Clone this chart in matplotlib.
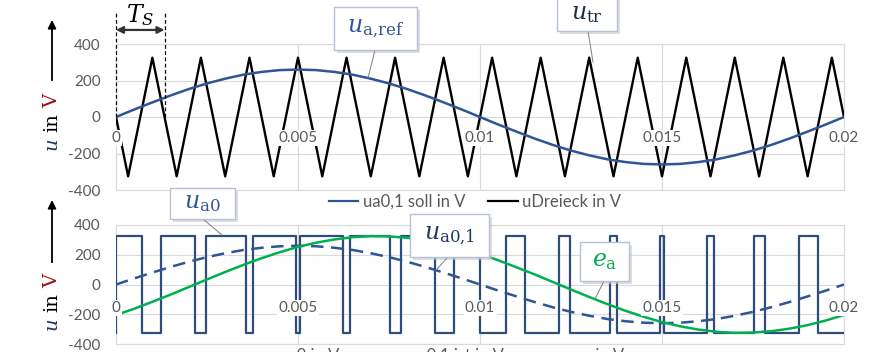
import numpy as np
import matplotlib.pyplot as plt
from matplotlib.patches import Rectangle
from matplotlib.lines import Line2D

plt.rcParams['font.family'] = ['Lato', 'DejaVu Sans']
plt.rcParams['mathtext.fontset'] = 'dejavuserif'

# --- data (time in ms, voltages in V) ---
t_ms = np.arange(0, 20.01, 0.5)
ua_ref = [0, 41, 80, 118, 153, 184, 210, 232, 247, 257, 260, 257, 247, 232, 210, 184, 153, 118, 80, 41,
          0, -41, -80, -118, -153, -184, -210, -232, -247, -257, -260, -257, -247, -232, -210, -184, -153,
          -118, -80, -41, 0]
e_a = [-205, -163, -116, -68, -17, 34, 84, 132, 177, 217, 253, 281, 303, 318, 325, 323, 314, 297, 273, 242,
       205, 163, 116, 68, 17, -34, -84, -132, -177, -217, -253, -281, -303, -318, -325, -323, -314, -297,
       -273, -242, -205]
tri_t_ms = [0, 0.333, 1.0, 1.667, 2.333, 3.0, 3.667, 4.333, 5.0, 5.667, 6.333, 7.0, 7.667, 8.333, 9.0,
            9.667, 10.333, 11.0, 11.667, 12.333, 13.0, 13.667, 14.333, 15.0, 15.667, 16.333, 17.0, 17.667,
            18.333, 19.0, 19.667, 20.0]
tri_v = [0, -325, 325, -325, 325, -325, 325, -325, 325, -325, 325, -325, 325, -325, 325, -325, 325,
         -325, 325, -325, 325, -325, 325, -325, 325, -325, 325, -325, 325, -325, 325, 0]
# switching instants of ua0 (high from 0 to the first edge, then alternating)
pwm_edges_ms = [0.727, 1.233, 2.167, 2.479, 3.574, 3.754, 4.933, 5.067, 6.246, 6.426, 7.521, 7.833, 8.767,
                9.273, 10.0, 10.727, 11.233, 12.167, 12.479, 13.574, 13.754, 14.933, 15.067, 16.246,
                16.426, 17.521, 17.833, 18.767, 19.273]
pwm_high, pwm_low = 325, -325
ts_ms = 1.333

x_ticks = [0, 0.005, 0.01, 0.015, 0.02]
x_labels = ['0', '0.005', '0.01', '0.015', '0.02']
y_ticks = [-400, -200, 0, 200, 400]
y_labels = ['-400', '-200', '0', '200', '400']

W, H = 884, 352
fx = lambda x: x / W
fy = lambda y: 1 - y / H

BLUE = '#2F5597'
PWM = '#2E4D7B'
GREEN = '#00B050'
GRID = '#D9D9D9'
TXT = '#595959'

fig = plt.figure(figsize=(W / 100, H / 100), dpi=100)
ax1 = fig.add_axes([fx(116), fy(190), 728 / W, 146 / H])
ax2 = fig.add_axes([fx(116), fy(344), 728 / W, 119 / H])

t = np.array(t_ms) / 1000
ax1.plot(np.array(tri_t_ms) / 1000, tri_v, color='black', lw=1.7, zorder=3)
ax1.plot(t, ua_ref, color=BLUE, lw=1.8, zorder=4)

# step signal of ua0
edges = np.array([0] + pwm_edges_ms + [20]) / 1000
levels = np.array([pwm_high if i % 2 == 0 else pwm_low for i in range(len(edges) - 1)])
xs = np.concatenate([[0], np.repeat(edges, 2)[1:-1]])
ys = np.concatenate([[pwm_low], np.repeat(levels, 2)])
ax2.plot(xs, ys, color=PWM, lw=1.6, zorder=3)
ax2.plot(t, ua_ref, color=BLUE, lw=1.8, ls=(0, (5, 3)), zorder=4)
ax2.plot(t, e_a, color=GREEN, lw=1.8, zorder=5)

for ax, ylab in ((ax1, -115), (ax2, -158)):
    ax.set_xlim(0, 0.02)
    ax.set_ylim(-400, 400)
    ax.set_xticks(x_ticks)
    ax.set_yticks(y_ticks)
    ax.set_yticklabels(y_labels)
    ax.tick_params(length=0, labelbottom=False, labelsize=11, labelcolor=TXT, pad=11)
    ax.grid(color=GRID, lw=0.8)
    ax.set_axisbelow(True)
    for sp in ax.spines.values():
        sp.set_color(GRID)
        sp.set_linewidth(0.8)
    for xt, lb in zip(x_ticks, x_labels):
        ax.text(xt, ylab, lb, ha='center', va='center', fontsize=11, color=TXT, zorder=8,
                bbox=dict(facecolor='white', edgecolor='none', pad=1), clip_on=False)

# legends
h1 = [Line2D([], [], color=BLUE, lw=1.6), Line2D([], [], color='black', lw=1.6)]
ax1.legend(h1, ['ua0,1 soll in V', 'uDreieck in V'], loc='center', bbox_to_anchor=(fx(475), fy(202)),
           bbox_transform=fig.transFigure, ncol=2, frameon=False, fontsize=12, handlelength=1.75,
           handletextpad=0.25, columnspacing=1.4, labelcolor=TXT)
h2 = [Line2D([], [], color=PWM, lw=1.6), Line2D([], [], color=BLUE, lw=1.6, ls=(0, (5, 3))),
      Line2D([], [], color=GREEN, lw=1.6)]
ax2.legend(h2, ['ua0 in V', 'ua0,1 ist in V', 'ea in V'], loc='center', bbox_to_anchor=(fx(435), fy(356)),
           bbox_transform=fig.transFigure, ncol=3, frameon=False, fontsize=12, handlelength=1.75,
           handletextpad=0.25, columnspacing=2.2, labelcolor=TXT)

# y labels with arrow
for yb, ya0, ya1 in ((150, 80, 20), (330, 262, 200)):
    fig.text(fx(52), fy(yb - 6), 'u', rotation=90, ha='center', va='center', fontsize=14,
             family='DejaVu Serif', style='italic', color='#1F3864')
    fig.text(fx(52), fy(yb - 27), 'in', rotation=90, ha='center', va='center', fontsize=14,
             family='DejaVu Serif', color='black')
    fig.text(fx(52), fy(yb - 49), 'V', rotation=90, ha='center', va='center', fontsize=14,
             family='DejaVu Serif', color='#A01010')
    fig.add_artist(Line2D([fx(52), fx(52)], [fy(ya0), fy(ya1 + 6)], color='black', lw=1.3))
    ax1.annotate('', xy=(fx(52), fy(ya1)), xytext=(fx(52), fy(ya1 + 10)), xycoords='figure fraction',
                 textcoords='figure fraction',
                 arrowprops=dict(arrowstyle='-|>', color='black', lw=1.3, mutation_scale=12,
                                 shrinkA=0, shrinkB=0))

# T_S annotation
ts = ts_ms / 1000
for xv in (0, ts):
    ax1.plot([xv, xv], [0, 575], color='black', lw=0.9, ls=(0, (3, 2)), clip_on=False, zorder=6)
ax1.annotate('', xy=(0, 477), xytext=(ts, 477), xycoords='data',
             arrowprops=dict(arrowstyle='<|-|>', color='#333333', lw=1.6, mutation_scale=10,
                             shrinkA=0, shrinkB=0), annotation_clip=False)
ax1.text(ts / 2, 560, r'$T_S$', ha='center', va='center', fontsize=17, clip_on=False)


def callout(x0, y0, x1, y1, text, color, lx0, ly0, lx1, ly1):
    fig.add_artist(Rectangle((fx(x0 + 3), fy(y1 + 3)), (x1 - x0) / W, (y1 - y0) / H,
                             transform=fig.transFigure, facecolor='#C8C8C8', edgecolor='none',
                             alpha=0.6, zorder=9))
    fig.add_artist(Rectangle((fx(x0), fy(y1)), (x1 - x0) / W, (y1 - y0) / H, transform=fig.transFigure,
                             facecolor='white', edgecolor='#B4C1D6', lw=1, zorder=10))
    fig.add_artist(Line2D([fx(lx0), fx(lx1)], [fy(ly0), fy(ly1)], color='#7F7F7F', lw=0.7, zorder=9))
    fig.text(fx((x0 + x1) / 2), fy((y0 + y1) / 2), text, ha='center', va='center', fontsize=17,
             color=color, zorder=11)


callout(334, 7, 417, 50, r'$u_{\mathrm{a{,}ref}}$', BLUE, 375, 50, 368, 78)
callout(557, -3, 617, 31, r'$u_{\mathrm{tr}}$', '#1F2A44', 588, 31, 593, 62)
callout(170, 188, 235, 219, r'$u_{\mathrm{a0}}$', BLUE, 203, 219, 222, 235)
callout(410, 214, 489, 257, r'$u_{\mathrm{a0{,}1}}$', '#1F3864', 448, 257, 436, 270)
callout(580, 242, 629, 281, r'$e_{\mathrm{a}}$', GREEN, 604, 281, 595, 299)

fig.savefig('out.png', dpi=100)
